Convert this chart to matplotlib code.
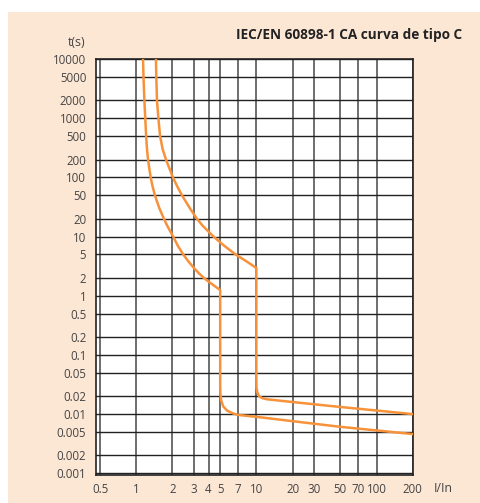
import matplotlib.pyplot as plt
from matplotlib.patches import Rectangle
from matplotlib.ticker import FixedLocator, NullLocator

# current multiple I/In (x) and trip time in seconds (y)
x_ticks = [0.5, 1, 2, 3, 4, 5, 7, 10, 20, 30, 50, 70, 100, 200]
x_labels = ['0.5', '1', '2', '3', '4', '5', '7', '10', '20', '30', '50', '70', '100', '200']
y_ticks = [10000, 5000, 2000, 1000, 500, 200, 100, 50, 20, 10, 5, 2, 1,
           0.5, 0.2, 0.1, 0.05, 0.02, 0.01, 0.005, 0.002, 0.001]
y_labels = ['10000', '5000', '2000', '1000', '500', '200', '100', '50', '20', '10', '5', '2', '1',
            '0.5', '0.2', '0.1', '0.05', '0.02', '0.01', '0.005', '0.002', '0.001']

# lower limit of the C curve
lower_I = [1.14, 1.15, 1.17, 1.19, 1.21, 1.23, 1.255, 1.28, 1.32, 1.37, 1.43, 1.56, 1.70, 1.82,
           2.03, 2.22, 2.46, 2.72, 3.0, 3.32, 3.66, 3.98, 4.45, 5.0,
           5.0, 5.02, 5.1, 5.3, 5.7, 6.3, 7.0, 10, 20, 50, 100, 200]
lower_t = [10000, 5000, 2000, 1000, 500, 300, 200, 150, 100, 70, 50, 30, 20, 15,
           10, 7, 5, 3.8, 3, 2.4, 2, 1.75, 1.48, 1.25,
           0.03, 0.022, 0.017, 0.0135, 0.0115, 0.0104, 0.0097, 0.0090, 0.0076, 0.0061, 0.0053, 0.0046]

# upper limit of the C curve
upper_I = [1.46, 1.47, 1.49, 1.53, 1.58, 1.66, 1.77, 1.87, 2.02, 2.2, 2.4, 2.8, 3.2, 3.6,
           4.4, 5.4, 6.7, 7.4, 8.3, 9.2, 10.0,
           10.0, 10.03, 10.2, 10.6, 11.3, 12.3, 20, 50, 100, 200]
upper_t = [10000, 5000, 2000, 1000, 500, 300, 200, 150, 100, 70, 50, 30, 20, 15,
           10, 7, 5, 4.4, 3.8, 3.3, 2.94,
           0.04, 0.028, 0.023, 0.0198, 0.0185, 0.0178, 0.0160, 0.0132, 0.0115, 0.0100]

orange = '#F7923A'
peach = '#FCE6D4'
txt = '#444444'

fig = plt.figure(figsize=(4.81, 5.03), dpi=100)
fig.patch.set_facecolor('white')
fig.add_artist(Rectangle((8 / 481, 0), 1, 491 / 503, transform=fig.transFigure,
                         facecolor=peach, edgecolor='none', zorder=0))

ax = fig.add_axes([96 / 481, 28 / 503, 316.7 / 481, 416 / 503])
ax.set_facecolor('white')
ax.set_xscale('log')
ax.set_yscale('log')
ax.set_xlim(0.463, 200)
ax.set_ylim(0.000936, 10000)

ax.xaxis.set_major_locator(FixedLocator(x_ticks))
ax.xaxis.set_minor_locator(NullLocator())
ax.yaxis.set_major_locator(FixedLocator(y_ticks))
ax.yaxis.set_minor_locator(NullLocator())
ax.set_xticklabels(x_labels, fontfamily='Open Sans', fontsize=8.3, color=txt)
ax.set_yticklabels(y_labels, fontfamily='Open Sans', fontsize=8.3, color=txt)
ax.tick_params(axis='both', length=0)
ax.tick_params(axis='y', pad=7)
ax.tick_params(axis='x', pad=6)

ax.grid(axis='x', color='#555555', linewidth=1.2)
ax.grid(axis='y', color='#222222', linewidth=1.0)
ax.set_axisbelow(True)
for s in ax.spines.values():
    s.set_color('#222222')
    s.set_linewidth(1.2)

ax.plot(lower_I, lower_t, color=orange, linewidth=1.8, solid_joinstyle='round', zorder=3)
ax.plot(upper_I, upper_t, color=orange, linewidth=1.8, solid_joinstyle='round', zorder=3)

fig.text(462 / 481, 1 - 35 / 503, 'IEC/EN 60898-1 CA curva de tipo C', ha='right', va='center',
         fontfamily='Open Sans', fontweight='bold', fontsize=9.8, color='#222222')
fig.text(77 / 481, 1 - 43 / 503, 't(s)', ha='center', va='center',
         fontfamily='Open Sans', fontsize=8.8, color=txt)
fig.text(443 / 481, 1 - 488 / 503, 'I/In', ha='center', va='center',
         fontfamily='Open Sans', fontsize=8.8, color=txt)

fig.savefig('out.png', dpi=100, facecolor=fig.get_facecolor())
